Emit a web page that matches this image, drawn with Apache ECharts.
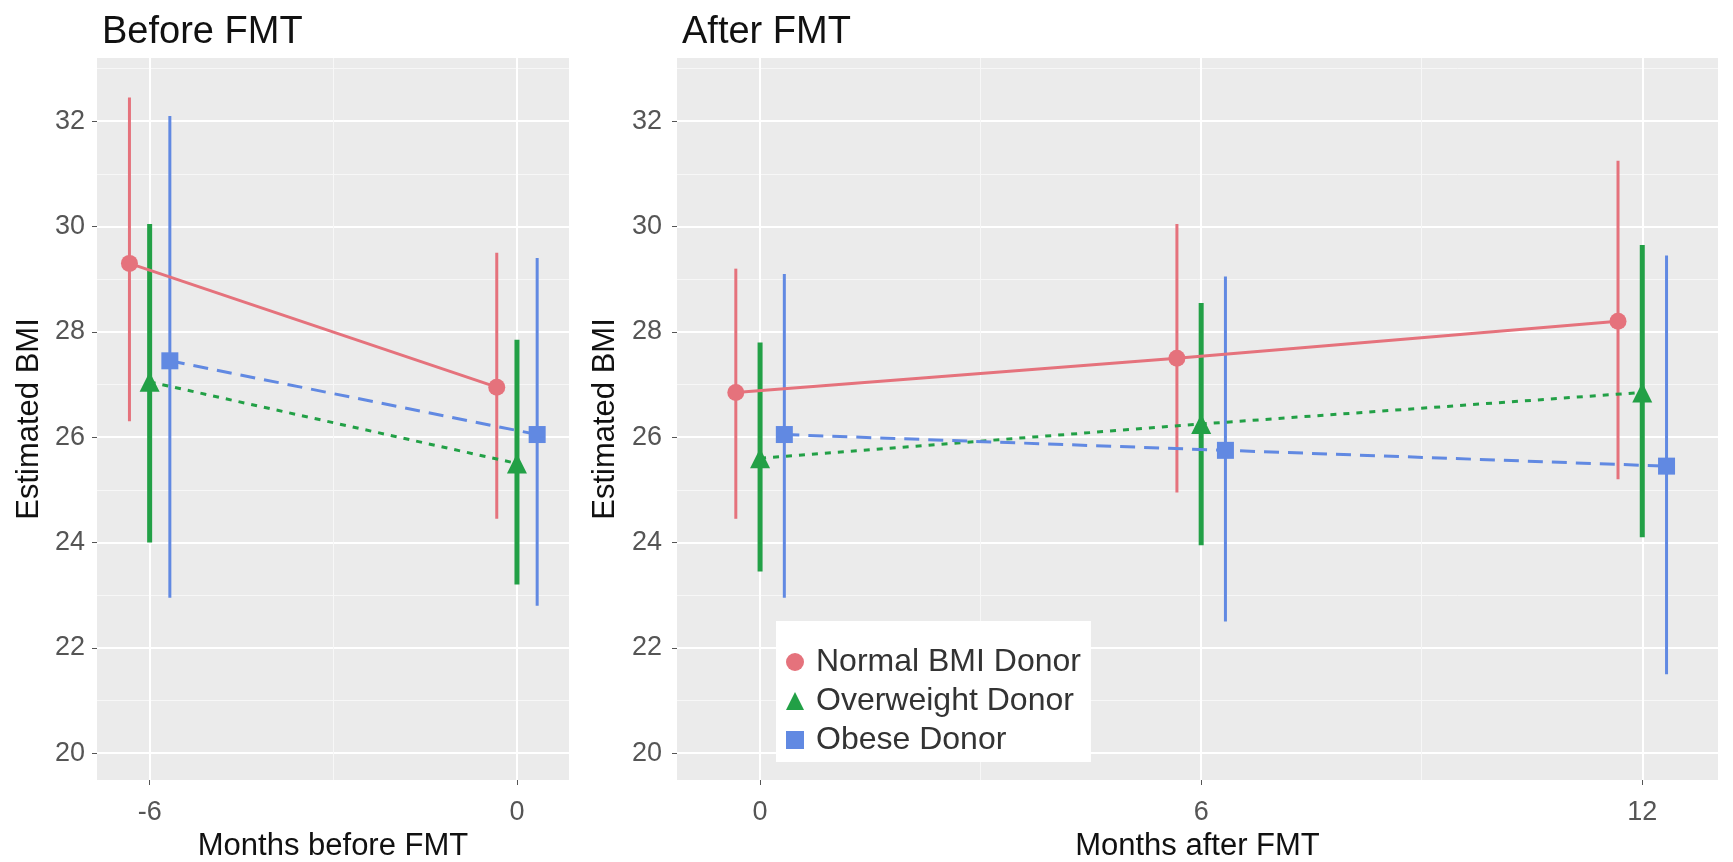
<!DOCTYPE html>
<html lang="en">

<head>
    <meta charset="UTF-8">
    <title>Estimated BMI before and after FMT</title>
    <style>
        * {
            margin: 0;
            padding: 0;
        }

        html,
        body,
        #chart {
            width: 1733px;
            height: 862px;
            overflow: hidden;
            background: #fff;
        }
    </style>
</head>

<body>
    <div id="chart"></div>
    <script src="https://cdn.jsdelivr.net/npm/echarts@6/dist/echarts.min.js"></script>
    <script>
        // categories
        let donorGroups = ['Normal BMI Donor', 'Overweight Donor', 'Obese Donor'];
        let monthsBefore = [-6, 0];
        let monthsAfter = [0, 6, 12];

        // tick labels
        let bmiTicks = [20, 22, 24, 26, 28, 30, 32];
        let bmiMinor = [21, 23, 25, 27, 29, 31, 33];
        let beforeTicks = [-6, 0];
        let beforeMinor = [-3];
        let afterTicks = [0, 6, 12];
        let afterMinor = [3, 9];

        // estimated BMI, before FMT
        let normalBefore = [29.3, 26.95];
        let normalBeforeLow = [26.3, 24.45];
        let normalBeforeHigh = [32.45, 29.5];
        let overweightBefore = [27.05, 25.5];
        let overweightBeforeLow = [24.0, 23.2];
        let overweightBeforeHigh = [30.05, 27.85];
        let obeseBefore = [27.45, 26.05];
        let obeseBeforeLow = [22.95, 22.8];
        let obeseBeforeHigh = [32.1, 29.4];

        // estimated BMI, after FMT
        let normalAfter = [26.85, 27.5, 28.2];
        let normalAfterLow = [24.45, 24.95, 25.2];
        let normalAfterHigh = [29.2, 30.05, 31.25];
        let overweightAfter = [25.6, 26.25, 26.85];
        let overweightAfterLow = [23.45, 23.95, 24.1];
        let overweightAfterHigh = [27.8, 28.55, 29.65];
        let obeseAfter = [26.05, 25.75, 25.45];
        let obeseAfterLow = [22.95, 22.5, 21.5];
        let obeseAfterHigh = [29.1, 29.05, 29.45];

        let colors = ['#E5727C', '#22A046', '#6189E2'];
        let symbols = ['circle', 'triangle', 'rect'];
        let lineTypes = ['solid', [6, 7], [15, 9]];
        let barWidths = [3, 5, 3];
        let dodge = [-0.33, 0, 0.33];

        let font = 'Liberation Sans, Arial, sans-serif';

        let panels = [{
            months: monthsBefore,
            mean: [normalBefore, overweightBefore, obeseBefore],
            low: [normalBeforeLow, overweightBeforeLow, obeseBeforeLow],
            high: [normalBeforeHigh, overweightBeforeHigh, obeseBeforeHigh]
        }, {
            months: monthsAfter,
            mean: [normalAfter, overweightAfter, obeseAfter],
            low: [normalAfterLow, overweightAfterLow, obeseAfterLow],
            high: [normalAfterHigh, overweightAfterHigh, obeseAfterHigh]
        }];

        function majorY(gridIndex, labelMargin) {
            return {
                type: 'value',
                gridIndex: gridIndex,
                min: 19.49,
                max: 33.2,
                name: 'Estimated BMI',
                nameLocation: 'middle',
                nameGap: 52,
                nameTextStyle: { color: '#111', fontSize: 31, fontFamily: font },
                axisLine: { show: false, onZero: false },
                axisTick: { show: true, length: 5, customValues: bmiTicks, lineStyle: { color: '#555', width: 1 } },
                axisLabel: { customValues: bmiTicks, margin: labelMargin, color: '#555', fontSize: 27, fontFamily: font },
                splitLine: { show: true, lineStyle: { color: '#fff', width: 2 } }
            };
        }

        function minorY(gridIndex) {
            return {
                type: 'value',
                gridIndex: gridIndex,
                min: 19.49,
                max: 33.2,
                axisLine: { show: false, onZero: false },
                axisTick: { show: false, customValues: bmiMinor },
                axisLabel: { show: false },
                splitLine: { show: true, lineStyle: { color: '#f7f7f7', width: 1 } }
            };
        }

        function majorX(gridIndex, min, max, ticks, name) {
            return {
                type: 'value',
                gridIndex: gridIndex,
                position: 'bottom',
                min: min,
                max: max,
                name: name,
                nameLocation: 'middle',
                nameGap: 50,
                nameTextStyle: { color: '#111', fontSize: 31, fontFamily: font },
                axisLine: { show: false, onZero: false },
                axisTick: { show: true, length: 5, customValues: ticks, lineStyle: { color: '#555', width: 1 } },
                axisLabel: { customValues: ticks, margin: 19, color: '#555', fontSize: 27, fontFamily: font },
                splitLine: { show: true, lineStyle: { color: '#fff', width: 2 } }
            };
        }

        function minorX(gridIndex, min, max, ticks) {
            return {
                type: 'value',
                gridIndex: gridIndex,
                position: 'top',
                min: min,
                max: max,
                axisLine: { show: false, onZero: false },
                axisTick: { show: false, customValues: ticks },
                axisLabel: { show: false },
                splitLine: { show: true, lineStyle: { color: '#f7f7f7', width: 1 } }
            };
        }

        let series = [];
        panels.forEach((panel, p) => {
            // error bars first, then lines and points on top
            donorGroups.forEach((group, g) => {
                let bars = panel.months.map((m, i) => [m + dodge[g], panel.low[g][i], panel.high[g][i]]);
                series.push({
                    name: group + ' CI',
                    type: 'custom',
                    xAxisIndex: p * 2,
                    yAxisIndex: p * 2,
                    data: bars,
                    encode: { x: 0, y: [1, 2] },
                    silent: true,
                    renderItem: function(params, api) {
                        let x = api.value(0);
                        let lo = api.coord([x, api.value(1)]);
                        let hi = api.coord([x, api.value(2)]);
                        return {
                            type: 'line',
                            shape: { x1: lo[0], y1: lo[1], x2: hi[0], y2: hi[1] },
                            style: { stroke: colors[g], lineWidth: barWidths[g] }
                        };
                    },
                    z: 2
                });
            });
            donorGroups.forEach((group, g) => {
                series.push({
                    name: group,
                    type: 'line',
                    xAxisIndex: p * 2,
                    yAxisIndex: p * 2,
                    data: panel.months.map((m, i) => [m + dodge[g], panel.mean[g][i]]),
                    symbol: symbols[g],
                    symbolSize: g == 1 ? 20 : 17,
                    showAllSymbol: true,
                    itemStyle: { color: colors[g] },
                    lineStyle: { color: colors[g], width: 3, type: lineTypes[g] },
                    z: 3
                });
            });
        });

        let option = {
            animation: false,
            backgroundColor: '#fff',
            title: [{
                text: 'Before FMT',
                left: 97,
                top: 9,
                textStyle: { color: '#111', fontSize: 38, fontWeight: 'normal', fontFamily: font }
            }, {
                text: 'After FMT',
                left: 677,
                top: 9,
                textStyle: { color: '#111', fontSize: 38, fontWeight: 'normal', fontFamily: font }
            }],
            legend: {
                orient: 'vertical',
                left: 776,
                top: 621,
                padding: [25, 10, 6, 10],
                itemGap: 7,
                itemWidth: 18,
                itemHeight: 18,
                backgroundColor: '#fff',
                textStyle: { color: '#333', fontSize: 32, fontFamily: font, lineHeight: 30, padding: [0, 0, 0, 7] },
                data: donorGroups.map((g, i) => ({ name: g, icon: symbols[i] }))
            },
            grid: [{
                left: 97,
                right: 1733 - 569,
                top: 58,
                bottom: 82,
                outerBoundsMode: 'none',
                show: true,
                backgroundColor: '#EBEBEB',
                borderWidth: 0
            }, {
                left: 677,
                right: 15,
                top: 58,
                bottom: 82,
                outerBoundsMode: 'none',
                show: true,
                backgroundColor: '#EBEBEB',
                borderWidth: 0
            }],
            xAxis: [
                majorX(0, -6.86, 0.85, beforeTicks, 'Months before FMT'),
                minorX(0, -6.86, 0.85, beforeMinor),
                majorX(1, -1.13, 13.03, afterTicks, 'Months after FMT'),
                minorX(1, -1.13, 13.03, afterMinor)
            ],
            yAxis: [majorY(0, 12), minorY(0), majorY(1, 15), minorY(1)],
            series: series
        };

        let myChart = echarts.init(document.getElementById('chart'));
        myChart.setOption(option, true);
    </script>
</body>

</html>
